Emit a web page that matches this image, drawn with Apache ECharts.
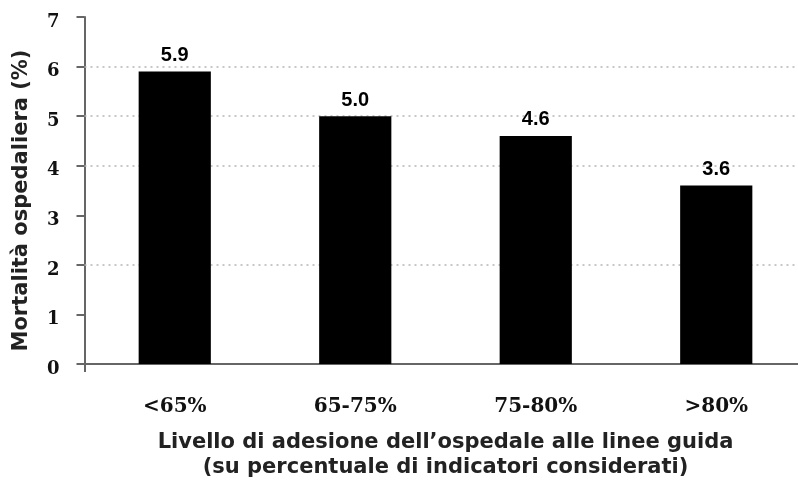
<!DOCTYPE html>
<html>
<head>
<meta charset="utf-8">
<script src="https://cdn.jsdelivr.net/npm/echarts@6/dist/echarts.min.js"></script>
<style>html,body{margin:0;padding:0;background:#fff}#c{width:798px;height:486px}</style>
</head>
<body>
<div id="c"></div>
<script>
const categories = ['<65%', '65-75%', '75-80%', '>80%'];
const mortality = [5.9, 5.0, 4.6, 3.6];
const valueLabels = ['5.9', '5.0', '4.6', '3.6'];
const gridValues = [2, 4, 5, 6];
const yAxisTitle = 'Mortalità ospedaliera (%)';
const xAxisTitle = "Livello di adesione dell’ospedale alle linee guida\n(su percentuale di indicatori considerati)";

const chart = echarts.init(document.getElementById('c'));
chart.setOption({
  animation: false,
  backgroundColor: '#fff',
  grid: { left: 84.5, width: 722, top: 17, bottom: 122, outerBoundsMode: 'none', containLabel: false },
  xAxis: {
    type: 'category',
    data: categories,
    name: xAxisTitle,
    nameLocation: 'middle',
    nameGap: 66,
    nameTextStyle: { fontFamily: 'DejaVu Sans', fontWeight: 'bold', fontSize: 21, color: '#222', lineHeight: 25, padding: [0, 0, 0, 0] },
    axisLine: { lineStyle: { color: '#666', width: 2 } },
    axisTick: { show: true, length: 8, interval: function (i) { return i === 0; }, lineStyle: { color: '#666', width: 2 } },
    axisLabel: { margin: 33, fontFamily: 'DejaVu Serif', fontWeight: 'bold', fontSize: 20, color: '#111' }
  },
  yAxis: {
    type: 'value',
    min: 0, max: 7, interval: 1,
    name: yAxisTitle,
    nameLocation: 'middle',
    nameGap: 52,
    nameTextStyle: { fontFamily: 'DejaVu Sans', fontWeight: 'bold', fontSize: 21, color: '#222', padding: [0, 20, 0, 0] },
    axisLine: { show: true, lineStyle: { color: '#666', width: 2 } },
    axisTick: { show: true, length: 8, lineStyle: { color: '#666', width: 2 } },
    splitLine: { show: false },
    axisLabel: { margin: 25, fontFamily: 'DejaVu Serif', fontWeight: 'bold', fontSize: 18, color: '#111', verticalAlign: 'top', lineHeight: 10 }
  },
  series: [{
    type: 'bar',
    data: mortality,
    barWidth: '40%',
    z: 2,
    itemStyle: { color: '#000' },
    label: {
      show: true, position: 'top', distance: 6,
      formatter: function (p) { return valueLabels[p.dataIndex]; },
      fontFamily: 'Liberation Sans', fontWeight: 'bold', fontSize: 20, color: '#000'
    },
    markLine: {
      z: 1,
      silent: true,
      symbol: 'none',
      label: { show: false },
      lineStyle: { color: '#b5b5b5', type: [2, 4], width: 1.5 },
      data: gridValues.map(v => ({ yAxis: v }))
    }
  }]
});
</script>
</body>
</html>
